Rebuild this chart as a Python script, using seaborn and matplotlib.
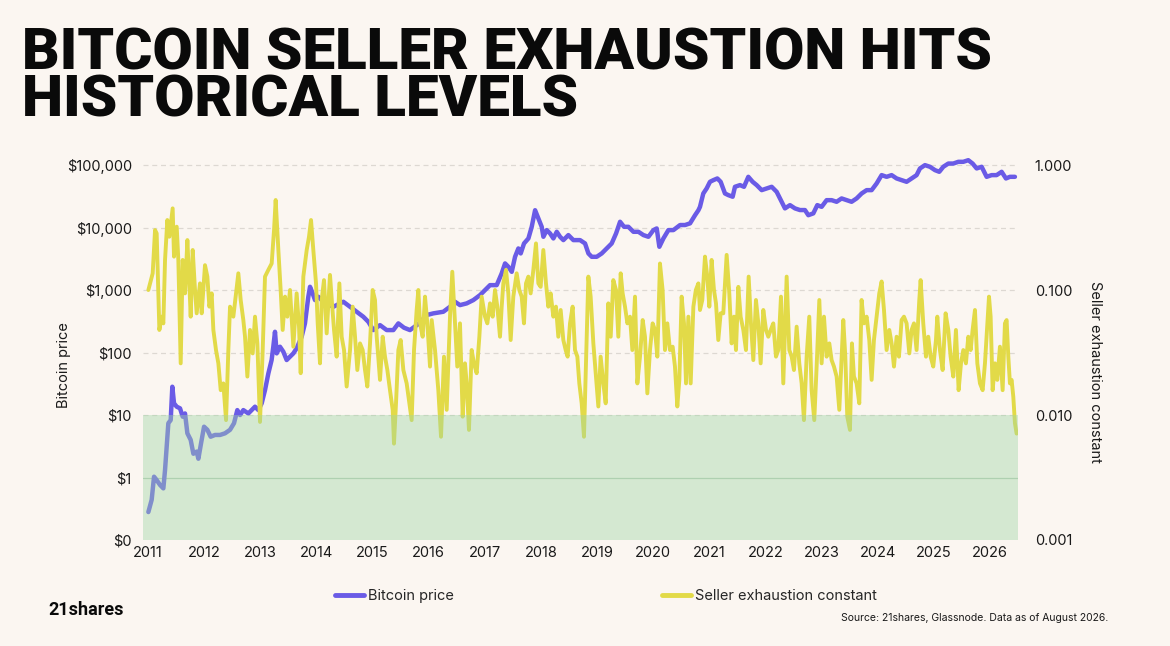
import matplotlib
matplotlib.use('Agg')
from matplotlib import pyplot as plt
import pandas as pd
import seaborn as sns

# ---- data (decimal year, value) ----
price_years = [2011.006, 2011.065, 2011.107, 2011.154, 2011.214, 2011.273, 2011.303, 2011.362,
               2011.404, 2011.433, 2011.463, 2011.511, 2011.570, 2011.618, 2011.659, 2011.701,
               2011.760, 2011.808, 2011.867, 2011.897, 2011.944, 2011.998, 2012.057, 2012.116,
               2012.194, 2012.283, 2012.372, 2012.461, 2012.532, 2012.591, 2012.639, 2012.698,
               2012.787, 2012.846, 2012.906, 2012.965, 2013.025, 2013.084, 2013.143, 2013.202,
               2013.232, 2013.262, 2013.292, 2013.351, 2013.411, 2013.470, 2013.529, 2013.589,
               2013.648, 2013.737, 2013.796, 2013.856, 2013.886, 2013.933, 2013.975, 2014.034,
               2014.093, 2014.200, 2014.302, 2014.480, 2014.599, 2014.717, 2014.836, 2014.925,
               2015.014, 2015.133, 2015.252, 2015.371, 2015.460, 2015.560, 2015.667, 2015.846,
               2015.964, 2016.083, 2016.261, 2016.380, 2016.469, 2016.558, 2016.677, 2016.796,
               2016.915, 2017.004, 2017.093, 2017.212, 2017.301, 2017.361, 2017.420, 2017.480,
               2017.539, 2017.598, 2017.640, 2017.699, 2017.777, 2017.836, 2017.896, 2017.955,
               2018.014, 2018.044, 2018.103, 2018.163, 2018.222, 2018.282, 2018.341, 2018.400,
               2018.489, 2018.578, 2018.697, 2018.786, 2018.846, 2018.905, 2018.994, 2019.083,
               2019.172, 2019.261, 2019.339, 2019.410, 2019.481, 2019.558, 2019.648, 2019.737,
               2019.826, 2019.915, 2020.004, 2020.063, 2020.110, 2020.182, 2020.271, 2020.360,
               2020.479, 2020.568, 2020.657, 2020.746, 2020.806, 2020.834, 2020.893, 2020.953,
               2021.012, 2021.072, 2021.143, 2021.202, 2021.279, 2021.339, 2021.416, 2021.457,
               2021.546, 2021.618, 2021.695, 2021.772, 2021.844, 2021.933, 2022.022, 2022.111,
               2022.200, 2022.259, 2022.348, 2022.437, 2022.526, 2022.615, 2022.704, 2022.764,
               2022.853, 2022.924, 2023.001, 2023.090, 2023.179, 2023.268, 2023.357, 2023.446,
               2023.535, 2023.624, 2023.714, 2023.803, 2023.892, 2023.981, 2024.070, 2024.159,
               2024.248, 2024.337, 2024.426, 2024.515, 2024.604, 2024.693, 2024.753, 2024.842,
               2024.931, 2025.020, 2025.097, 2025.169, 2025.258, 2025.347, 2025.436, 2025.525,
               2025.614, 2025.691, 2025.763, 2025.852, 2025.941, 2026.030, 2026.119, 2026.208,
               2026.285, 2026.356, 2026.445]
price_usd = [0.28, 0.44, 1.03, 0.91, 0.76, 0.67, 1.32, 7.4,
             8.3, 28.4, 15.4, 13.6, 12.8, 9.4, 10.6, 5.1,
             4.0, 2.4, 2.6, 2.0, 3.5, 6.5, 5.8, 4.5,
             4.8, 4.8, 5.1, 5.8, 7.4, 12.0, 10.0, 12.0,
             10.6, 12.0, 13.6, 12.0, 15.4, 25, 46, 76,
             124, 215, 97, 124, 103, 76, 86, 97,
             117, 179, 293, 782, 1130, 885, 692, 782,
             692, 600, 541, 650, 541, 450, 374, 311,
             229, 275, 229, 229, 293, 250, 229, 300,
             398, 424, 450, 541, 650, 575, 612, 692,
             832, 1000, 1200, 1200, 1850, 2670, 2360, 1960,
             3410, 4640, 3860, 5580, 6710, 10300, 19000, 14000,
             10300, 7130, 9120, 8070, 6710, 8570, 7130, 6310,
             7590, 6310, 6310, 5580, 3860, 3410, 3410, 3860,
             4640, 5580, 8070, 12400, 10300, 10300, 8570, 8570,
             7590, 7130, 9120, 9700, 4930, 6710, 9120, 9120,
             11000, 11000, 11700, 15800, 19000, 21500, 35200, 42400,
             54100, 57500, 61200, 54100, 35200, 33100, 31200, 45000,
             47900, 45000, 65000, 54100, 47900, 39800, 42400, 45000,
             37400, 29300, 20300, 22900, 20300, 19100, 19100, 15800,
             16900, 22900, 21500, 27500, 27500, 25900, 29300, 27500,
             25900, 29300, 35200, 39800, 39800, 50900, 69200, 65000,
             69200, 61200, 57500, 54100, 61200, 69200, 88500, 100000,
             94100, 83200, 78200, 94100, 106000, 106000, 113000, 113000,
             120000, 106000, 88500, 94100, 65000, 69200, 69200, 78200,
             61200, 65000, 65000]

sec_years = [2011.006, 2011.083, 2011.125, 2011.154, 2011.202, 2011.243, 2011.273, 2011.303,
             2011.344, 2011.380, 2011.439, 2011.463, 2011.511, 2011.540, 2011.582, 2011.618,
             2011.659, 2011.701, 2011.736, 2011.760, 2011.796, 2011.837, 2011.867, 2011.926,
             2011.956, 2012.015, 2012.057, 2012.093, 2012.134, 2012.164, 2012.211, 2012.253,
             2012.295, 2012.342, 2012.390, 2012.431, 2012.461, 2012.520, 2012.568, 2012.609,
             2012.651, 2012.698, 2012.728, 2012.770, 2012.817, 2012.865, 2012.906, 2012.948,
             2012.995, 2013.043, 2013.084, 2013.144, 2013.203, 2013.245, 2013.274, 2013.322,
             2013.363, 2013.399, 2013.441, 2013.482, 2013.530, 2013.589, 2013.648, 2013.690,
             2013.720, 2013.767, 2013.827, 2013.868, 2013.904, 2013.945, 2013.993, 2014.023,
             2014.064, 2014.094, 2014.135, 2014.183, 2014.242, 2014.278, 2014.314, 2014.361,
             2014.409, 2014.450, 2014.492, 2014.539, 2014.599, 2014.646, 2014.688, 2014.729,
             2014.777, 2014.824, 2014.866, 2014.907, 2014.955, 2015.002, 2015.044, 2015.074,
             2015.133, 2015.181, 2015.222, 2015.264, 2015.311, 2015.359, 2015.382, 2015.418,
             2015.460, 2015.501, 2015.549, 2015.608, 2015.656, 2015.697, 2015.739, 2015.786,
             2015.816, 2015.846, 2015.893, 2015.935, 2015.976, 2016.024, 2016.054, 2016.113,
             2016.172, 2016.220, 2016.273, 2016.321, 2016.380, 2016.421, 2016.469, 2016.510,
             2016.558, 2016.606, 2016.647, 2016.677, 2016.718, 2016.766, 2016.807, 2016.855,
             2016.903, 2016.944, 2017.004, 2017.045, 2017.093, 2017.140, 2017.182, 2017.223,
             2017.271, 2017.301, 2017.330, 2017.378, 2017.419, 2017.461, 2017.508, 2017.568,
             2017.615, 2017.657, 2017.698, 2017.734, 2017.776, 2017.817, 2017.865, 2017.912,
             2017.954, 2017.995, 2018.043, 2018.090, 2018.132, 2018.173, 2018.221, 2018.268,
             2018.310, 2018.352, 2018.399, 2018.441, 2018.476, 2018.518, 2018.565, 2018.607,
             2018.649, 2018.684, 2018.726, 2018.767, 2018.803, 2018.845, 2018.886, 2018.934,
             2018.981, 2019.023, 2019.064, 2019.112, 2019.154, 2019.201, 2019.243, 2019.290,
             2019.338, 2019.379, 2019.421, 2019.456, 2019.498, 2019.540, 2019.587, 2019.629,
             2019.676, 2019.718, 2019.765, 2019.813, 2019.854, 2019.896, 2019.943, 2019.990,
             2020.032, 2020.074, 2020.121, 2020.168, 2020.210, 2020.252, 2020.299, 2020.347,
             2020.388, 2020.430, 2020.466, 2020.507, 2020.549, 2020.585, 2020.627, 2020.668,
             2020.716, 2020.760, 2020.805, 2020.834, 2020.875, 2020.923, 2020.964, 2021.000,
             2021.041, 2021.083, 2021.119, 2021.160, 2021.202, 2021.249, 2021.309, 2021.356,
             2021.398, 2021.440, 2021.475, 2021.517, 2021.558, 2021.606, 2021.653, 2021.701,
             2021.742, 2021.784, 2021.831, 2021.873, 2021.915, 2021.962, 2022.010, 2022.051,
             2022.093, 2022.140, 2022.188, 2022.229, 2022.277, 2022.318, 2022.378, 2022.425,
             2022.467, 2022.508, 2022.556, 2022.603, 2022.645, 2022.686, 2022.734, 2022.781,
             2022.823, 2022.870, 2022.912, 2022.960, 2023.001, 2023.043, 2023.090, 2023.138,
             2023.179, 2023.221, 2023.268, 2023.316, 2023.352, 2023.387, 2023.423, 2023.458,
             2023.506, 2023.541, 2023.577, 2023.624, 2023.672, 2023.713, 2023.755, 2023.803,
             2023.850, 2023.892, 2023.933, 2023.981, 2024.028, 2024.070, 2024.112, 2024.159,
             2024.207, 2024.248, 2024.290, 2024.337, 2024.379, 2024.426, 2024.468, 2024.515,
             2024.563, 2024.604, 2024.646, 2024.693, 2024.741, 2024.765, 2024.812, 2024.860,
             2024.901, 2024.943, 2024.990, 2025.038, 2025.062, 2025.109, 2025.157, 2025.210,
             2025.258, 2025.299, 2025.347, 2025.394, 2025.442, 2025.484, 2025.525, 2025.572,
             2025.614, 2025.656, 2025.691, 2025.733, 2025.775, 2025.822, 2025.870, 2025.911,
             2025.953, 2025.983, 2026.012, 2026.048, 2026.089, 2026.131, 2026.178, 2026.226,
             2026.267, 2026.297, 2026.327, 2026.356, 2026.386, 2026.416, 2026.445, 2026.475]
sec_values = [0.100, 0.136, 0.302, 0.284, 0.0479, 0.0612, 0.0541, 0.174,
              0.363, 0.267, 0.450, 0.185, 0.321, 0.174, 0.0259, 0.174,
              0.094, 0.251, 0.113, 0.0612, 0.209, 0.100, 0.0651, 0.113,
              0.0651, 0.158, 0.128, 0.0736, 0.094, 0.0479, 0.0331, 0.0259,
              0.0158, 0.0179, 0.0091, 0.0331, 0.0736, 0.0612, 0.094, 0.136,
              0.0832, 0.0575, 0.0423, 0.0203, 0.0479, 0.0311, 0.0612, 0.0374,
              0.0088, 0.0331, 0.128, 0.145, 0.163, 0.302, 0.525, 0.209,
              0.100, 0.0479, 0.0885, 0.0612, 0.100, 0.0352, 0.094, 0.0509,
              0.0216, 0.128, 0.209, 0.267, 0.363, 0.209, 0.113, 0.0541,
              0.0259, 0.0832, 0.120, 0.0450, 0.132, 0.0782, 0.0479, 0.0293,
              0.113, 0.0423, 0.0331, 0.0169, 0.0331, 0.0736, 0.0423, 0.0229,
              0.0374, 0.0331, 0.0229, 0.0169, 0.0374, 0.100, 0.0832, 0.0423,
              0.0191, 0.0423, 0.0293, 0.0229, 0.0158, 0.0110, 0.0059, 0.0124,
              0.0331, 0.0398, 0.0229, 0.0179, 0.0124, 0.0091, 0.0331, 0.0692,
              0.100, 0.0541, 0.0423, 0.0885, 0.0541, 0.0244, 0.0575, 0.0331,
              0.0158, 0.0067, 0.0293, 0.0110, 0.0612, 0.140, 0.0541, 0.0244,
              0.0541, 0.0097, 0.0259, 0.0179, 0.0076, 0.0331, 0.0259, 0.0216,
              0.0423, 0.0885, 0.0612, 0.0541, 0.0782, 0.0612, 0.100, 0.0736,
              0.0423, 0.0736, 0.113, 0.145, 0.094, 0.0398, 0.0885, 0.136,
              0.100, 0.0885, 0.0541, 0.113, 0.128, 0.094, 0.145, 0.236,
              0.113, 0.106, 0.209, 0.113, 0.0736, 0.094, 0.0612, 0.0736,
              0.0423, 0.0692, 0.0398, 0.0331, 0.0293, 0.0541, 0.0736, 0.0331,
              0.0293, 0.0179, 0.0124, 0.0067, 0.0259, 0.128, 0.0885, 0.0374,
              0.0203, 0.0117, 0.0293, 0.0179, 0.0124, 0.0782, 0.0423, 0.120,
              0.100, 0.0423, 0.136, 0.094, 0.0736, 0.0541, 0.0612, 0.0331,
              0.0885, 0.0179, 0.0293, 0.0575, 0.0423, 0.0149, 0.0331, 0.0541,
              0.0479, 0.0293, 0.163, 0.100, 0.0331, 0.0541, 0.0331, 0.0352,
              0.0244, 0.0117, 0.0191, 0.0885, 0.0541, 0.0179, 0.0612, 0.0179,
              0.0736, 0.100, 0.113, 0.0692, 0.0832, 0.185, 0.128, 0.0736,
              0.174, 0.100, 0.0782, 0.0398, 0.0651, 0.0651, 0.191, 0.094,
              0.0374, 0.0612, 0.0331, 0.106, 0.0612, 0.0479, 0.0331, 0.128,
              0.0541, 0.0275, 0.0832, 0.0541, 0.0259, 0.0692, 0.0479, 0.0423,
              0.0479, 0.0541, 0.0293, 0.0331, 0.0885, 0.0179, 0.128, 0.0331,
              0.0293, 0.0229, 0.0509, 0.0259, 0.0179, 0.0091, 0.0293, 0.0612,
              0.0158, 0.0091, 0.0244, 0.0832, 0.0259, 0.0612, 0.0293, 0.0374,
              0.0275, 0.0244, 0.0203, 0.0110, 0.0259, 0.0575, 0.0293, 0.0097,
              0.0076, 0.0374, 0.0203, 0.0179, 0.0124, 0.0832, 0.0541, 0.0612,
              0.0398, 0.0191, 0.0398, 0.0612, 0.094, 0.117, 0.0692, 0.0331,
              0.0479, 0.0374, 0.0244, 0.0423, 0.0293, 0.0575, 0.0612, 0.0541,
              0.0311, 0.0479, 0.0541, 0.0331, 0.0832, 0.120, 0.0541, 0.0293,
              0.0423, 0.0293, 0.0244, 0.0398, 0.0612, 0.0331, 0.0229, 0.0651,
              0.0479, 0.0293, 0.0203, 0.0479, 0.0158, 0.0259, 0.0331, 0.0259,
              0.0423, 0.0331, 0.0479, 0.0692, 0.0259, 0.0179, 0.0158, 0.0259,
              0.0541, 0.0885, 0.0612, 0.0158, 0.0259, 0.0191, 0.0352, 0.0158,
              0.0541, 0.0575, 0.0293, 0.0179, 0.0191, 0.0140, 0.0086, 0.0071]

year_ticks = list(range(2011, 2027))
price_ticks = [0.1, 1, 10, 100, 1000, 10000, 100000]
price_labels = ['$0', '$1', '$10', '$100', '$1,000', '$10,000', '$100,000']
sec_ticks = [0.001, 0.01, 0.1, 1]
sec_labels = ['0.001', '0.010', '0.100', '1.000']

price_df = pd.DataFrame({'year': price_years, 'price': price_usd})
sec_df = pd.DataFrame({'year': sec_years, 'sec': sec_values})

BG = '#FBF6F1'
PURPLE = '#6A5BE6'
YELLOW = '#E2DA48'

sns.set_style('white')
plt.rcParams['font.family'] = ['Inter', 'DejaVu Sans']

fig = plt.figure(figsize=(11.7, 6.46), dpi=100, facecolor=BG)
ax = fig.add_axes([0.1222, 0.1641, 0.7479, 0.5913])
ax.set_facecolor(BG)
ax2 = ax.twinx()

sns.lineplot(data=price_df, x='year', y='price', ax=ax, color=PURPLE, lw=3.2, zorder=3,
             solid_joinstyle='round', solid_capstyle='round')
sns.lineplot(data=sec_df, x='year', y='sec', ax=ax2, color=YELLOW, lw=2.8, zorder=2,
             solid_joinstyle='round', solid_capstyle='round')

ax.set_yscale('log')
ax2.set_yscale('log')
ax.set_ylim(0.1, 1.3e5)
ax2.set_ylim(0.001, 1.138)
ax.set_xlim(2010.91, 2026.5)

ax.set_yticks(price_ticks)
ax.set_yticklabels(price_labels)
ax.minorticks_off()
ax2.set_yticks(sec_ticks)
ax2.set_yticklabels(sec_labels)
ax2.minorticks_off()
ax.set_xticks(year_ticks)
ax.set_xticklabels([str(y) for y in year_ticks])

# grid lines and green exhaustion zone
for t in price_ticks[2:]:
    ax.axhline(t, color='#DDD8D2', lw=0.9, ls=(0, (4, 3)), zorder=1)
ax.axhline(1, color='#B9CDB8', lw=0.9, zorder=1)
ax2.axhspan(0.001, 0.01, color='#9FD6A6', alpha=0.42, lw=0, zorder=5)

for a in (ax, ax2):
    for s in a.spines.values():
        s.set_visible(False)
    a.tick_params(length=0, labelsize=10.5, colors='#1A1A1A')
    a.set_xlabel('')
    a.set_ylabel('')
ax.tick_params(axis='y', pad=8)
ax2.tick_params(axis='y', pad=12)
ax.tick_params(axis='x', pad=4)

fig.text(0.0547, 0.435, 'Bitcoin price', rotation=90, ha='center', va='center', fontsize=10.5, color='#1A1A1A')
fig.text(0.936, 0.424, 'Seller exhaustion constant', rotation=270, ha='center', va='center', fontsize=10.5, color='#1A1A1A')

fig.text(0.019, 1 - 26 / 646, 'BITCOIN SELLER EXHAUSTION HITS\nHISTORICAL LEVELS', fontsize=42,
         fontweight='black', family='Roboto', va='top', ha='left', linespacing=0.82, color='#0A0A0A')

handles = [plt.Line2D([], [], color=PURPLE, lw=3.5), plt.Line2D([], [], color=YELLOW, lw=3.5)]
fig.legend(handles, ['Bitcoin price', 'Seller exhaustion constant'], loc='center',
           bbox_to_anchor=(0.518, 0.0774), ncol=2, frameon=False, fontsize=10.5,
           handlelength=2.0, handletextpad=0.25, columnspacing=14.3)

fig.text(0.041, 1 - 615 / 646, '21shares', fontsize=13, fontweight='bold', family='Roboto',
         va='baseline', color='#0A0A0A')
fig.text(0.947, 1 - 621 / 646, 'Source: 21shares, Glassnode. Data as of August 2026.',
         fontsize=7.5, ha='right', va='baseline', color='#1A1A1A')

fig.savefig('out.png', dpi=100, facecolor=BG)
